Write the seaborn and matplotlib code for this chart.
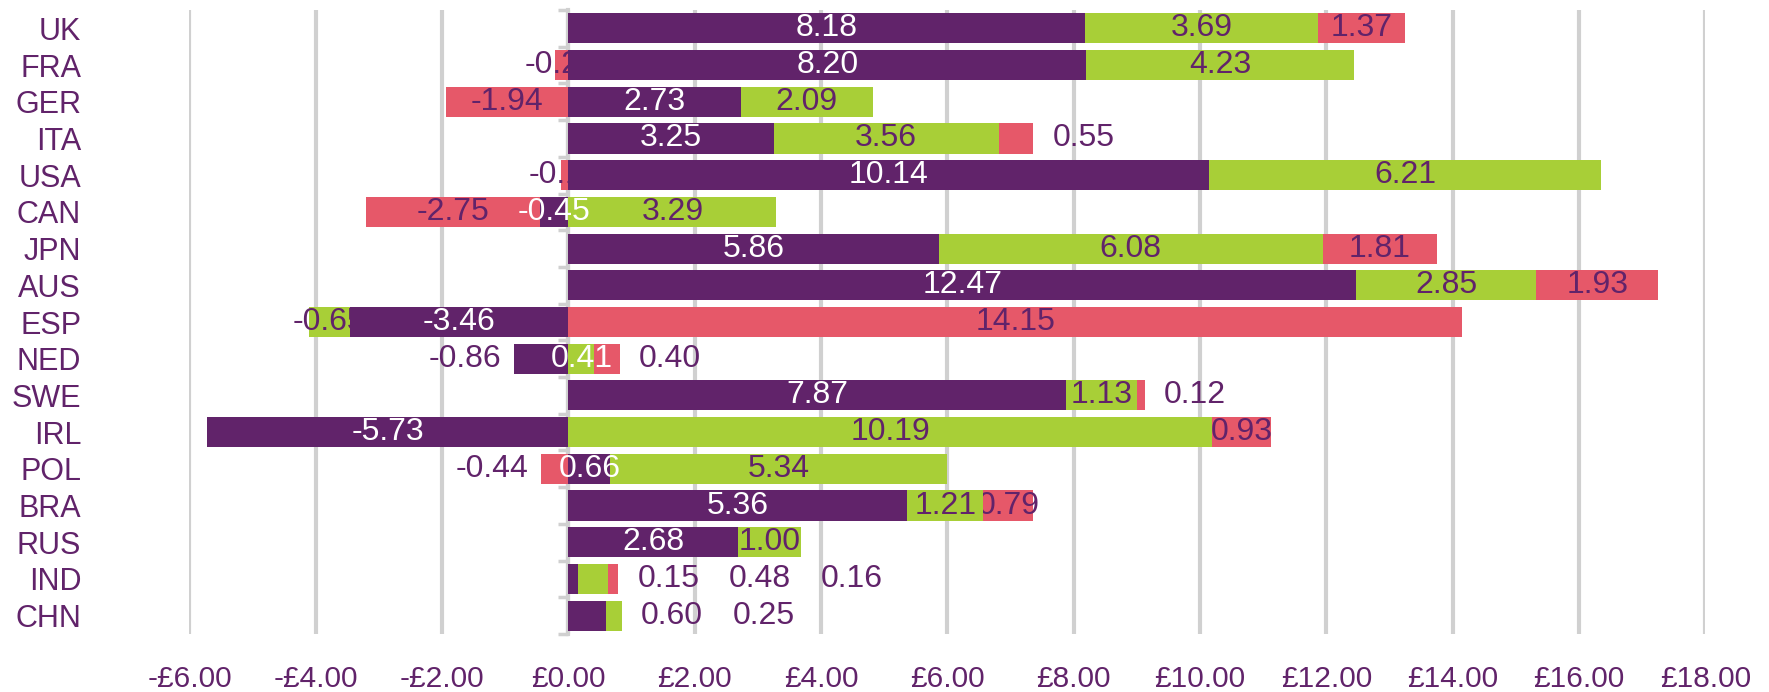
'''
    stacked horizontal bars by country, positive and negative parts
'''
import numpy as np
import seaborn as sns
import matplotlib.pyplot as plt
from matplotlib.ticker import FuncFormatter

# data
countries = ['UK', 'FRA', 'GER', 'ITA', 'USA', 'CAN', 'JPN', 'AUS', 'ESP',
             'NED', 'SWE', 'IRL', 'POL', 'BRA', 'RUS', 'IND', 'CHN']
purple_vals = [8.18, 8.20, 2.73, 3.25, 10.14, -0.45, 5.86, 12.47, -3.46,
               -0.86, 7.87, -5.73, 0.66, 5.36, 2.68, 0.15, 0.60]
green_vals = [3.69, 4.23, 2.09, 3.56, 6.21, 3.29, 6.08, 2.85, -0.65,
              0.41, 1.13, 10.19, 5.34, 1.21, 1.00, 0.48, 0.25]
red_vals = [1.37, -0.22, -1.94, 0.55, -0.12, -2.75, 1.81, 1.93, 14.15,
            0.40, 0.12, 0.93, -0.44, 0.79, 0.00, 0.16, 0.00]
x_ticks = [-6, -4, -2, 0, 2, 4, 6, 8, 10, 12, 14, 16, 18]

# styles
PURPLE = '#61236A'
GREEN = '#A8CF37'
RED = '#E65869'
GRID = '#D0D0D0'
LABEL_SIZE = 23
series = [purple_vals, green_vals, red_vals]
colors = [PURPLE, GREEN, RED]
label_colors = ['white', PURPLE, PURPLE]

# labels that sit outside the bars (series index per country)
outside_right = {'ITA': [2], 'NED': [2], 'SWE': [2], 'IND': [0, 1, 2], 'CHN': [0, 1]}
outside_left = {'NED': [0], 'POL': [2]}
# labels drawn white on top of everything
white_top = {'NED': [1]}

sns.set_style('white')
plt.rcParams['font.family'] = ['Liberation Sans', 'DejaVu Sans']

# stacking: positives go right from 0, negatives left from 0
n = len(countries)
pos_cum = np.zeros(n)
neg_cum = np.zeros(n)
starts, ends, pos_ext, neg_ext = [], [], [], []
for vals in series:
    v = np.array(vals, dtype=float)
    st = np.where(v >= 0, pos_cum, neg_cum)
    starts.append(st)
    ends.append(st + v)
    pos_cum = pos_cum + np.where(v > 0, v, 0)
    neg_cum = neg_cum + np.where(v < 0, v, 0)
    pos_ext.append(pos_cum.copy())
    neg_ext.append(neg_cum.copy())

fig = plt.figure(figsize=(17.69, 6.92), dpi=100)
ax = fig.add_axes([0.1071, 0.0838, 0.857, 0.9017])

# draw outer series first so inner ones cover them; labels right after own bars
for k in reversed(range(3)):
    z = 2 + (2 - k) * 2
    for ext in (pos_ext[k], neg_ext[k]):
        sns.barplot(x=ext, y=countries, orient='h', color=colors[k], width=0.82,
                    saturation=1, linewidth=0, errorbar=None, ax=ax, zorder=z)
    for i, c in enumerate(countries):
        v = series[k][i]
        if v == 0:
            continue
        txt = '%.2f' % v
        if k in outside_right.get(c, []):
            j = outside_right[c].index(k)
            x = pos_ext[2][i] + 0.3 + j * 1.45
            ax.text(x, i, txt, ha='left', va='center', color=PURPLE,
                    fontsize=LABEL_SIZE, zorder=z + 1)
        elif k in outside_left.get(c, []):
            x = ends[k][i] - 0.2
            ax.text(x, i, txt, ha='right', va='center', color=PURPLE,
                    fontsize=LABEL_SIZE, zorder=z + 1)
        elif k in white_top.get(c, []):
            x = (starts[k][i] + ends[k][i]) / 2
            ax.text(x, i, txt, ha='center', va='center', color='white',
                    fontsize=LABEL_SIZE, zorder=20)
        else:
            x = (starts[k][i] + ends[k][i]) / 2
            ax.text(x, i, txt, ha='center', va='center', color=label_colors[k],
                    fontsize=LABEL_SIZE, zorder=z + 1)

ax.set_xlim(-6, 18)
ax.set_ylim(n - 0.5, -0.5)
ax.set_xticks(x_ticks)
ax.xaxis.set_major_formatter(FuncFormatter(
    lambda v, p: ('-' if v < 0 else '') + '£%.2f' % abs(v)))
ax.grid(axis='x', color=GRID, linewidth=3)
ax.grid(axis='y', visible=False)
ax.set_axisbelow(True)
ax.set_xlabel('')
ax.set_ylabel('')
for s in ax.spines.values():
    s.set_visible(False)
ax.tick_params(axis='x', length=0, pad=22, labelsize=21.5, labelcolor=PURPLE)
ax.tick_params(axis='y', length=0, pad=78, labelsize=22, labelcolor=PURPLE)

# the zero axis with little ticks between categories
sec = ax.secondary_yaxis(0, transform=ax.transData)
sec.set_yticks(np.arange(-0.5, n, 1))
sec.set_yticklabels([])
sec.tick_params(length=7, width=2.5, color=GRID)
sec.spines['left'].set_color(GRID)
sec.spines['left'].set_linewidth(3)

fig.savefig('out.png', dpi=100)
